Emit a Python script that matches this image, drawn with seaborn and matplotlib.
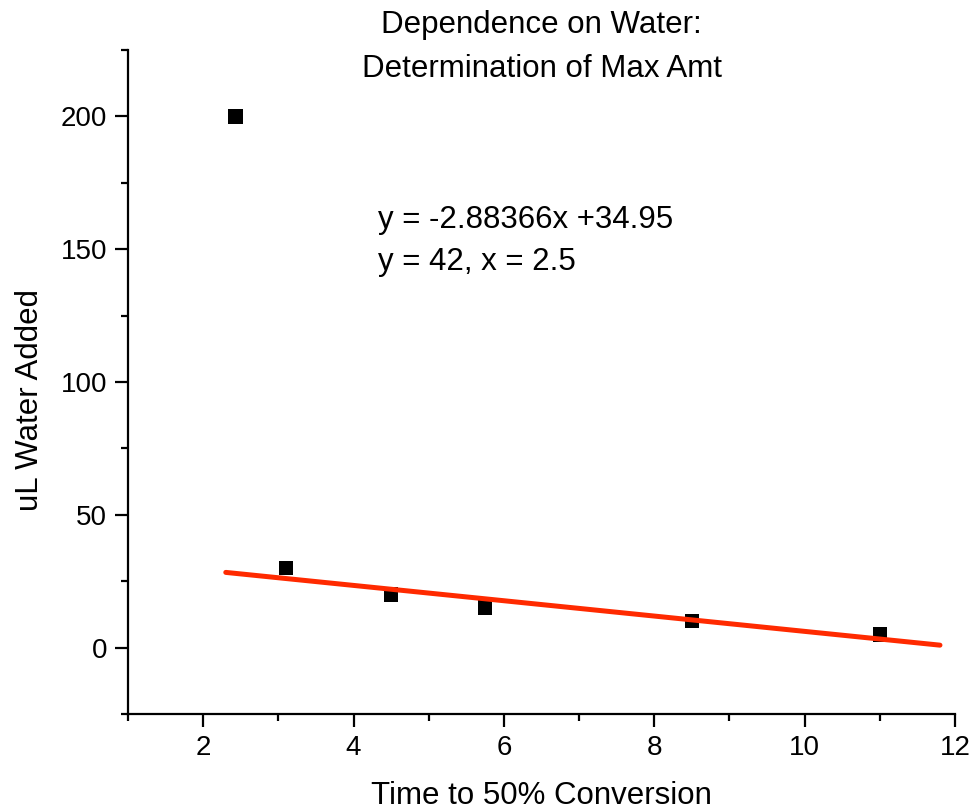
import numpy as np
import pandas as pd
import matplotlib
matplotlib.use("Agg")
import matplotlib.pyplot as plt
import seaborn as sns
from matplotlib.ticker import MultipleLocator

# Data
time_50 = [2.43, 3.1, 4.5, 5.75, 8.5, 11.0]
water_ul = [200, 30, 20, 15, 10, 5]
fit_slope = -2.88366
fit_intercept = 34.95
fit_range = [2.3, 11.8]
title_lines = ["Dependence on Water:", "Determination of Max Amt"]
eq_lines = ["y = -2.88366x +34.95", "y = 42, x = 2.5"]

sns.set_theme(style="white")
plt.rcParams['font.family'] = ['Liberation Sans', 'DejaVu Sans']
plt.rcParams['text.color'] = 'black'
plt.rcParams['axes.labelcolor'] = 'black'

fig = plt.figure(figsize=(9.73, 8.1), dpi=100)
ax = fig.add_axes([0.1316, 0.1185, 0.8499, 0.8198])

df = pd.DataFrame({"x": time_50, "y": water_ul})
fx = np.array(fit_range)
fit_df = pd.DataFrame({"x": fx, "y": fit_slope * fx + fit_intercept})

sns.scatterplot(data=df, x="x", y="y", ax=ax, marker="s", s=110,
                color="black", edgecolor="none", zorder=2)
sns.lineplot(data=fit_df, x="x", y="y", ax=ax, color="#ff2a00", lw=3.6,
             solid_capstyle="round", zorder=3)

ax.set_xlim(1, 12)
ax.set_ylim(-25, 225)
ax.xaxis.set_major_locator(MultipleLocator(2))
ax.xaxis.set_minor_locator(MultipleLocator(1))
ax.yaxis.set_major_locator(MultipleLocator(50))
ax.yaxis.set_minor_locator(MultipleLocator(25))
ax.set_yticks([0, 50, 100, 150, 200])

for s in ["top", "right"]:
    ax.spines[s].set_visible(False)
for s in ["left", "bottom"]:
    ax.spines[s].set_color("black")
    ax.spines[s].set_linewidth(1.6)

ax.tick_params(which="major", direction="out", length=9.4, width=1.6,
               colors="black", labelsize=20, left=True, bottom=True, pad=5.5)
ax.tick_params(which="minor", direction="out", length=5, width=1.6,
               colors="black", left=True, bottom=True)

ax.set_xlabel("Time to 50% Conversion", fontsize=22.5)
ax.set_ylabel("uL Water Added", fontsize=22.5)
ax.xaxis.set_label_coords(0.5, -0.1235)
ax.xaxis.label.set_va("center")
ax.yaxis.set_label_coords(-0.1185, 0.473)
ax.yaxis.label.set_va("center")

ax.text(0.5, 1.037, title_lines[0], transform=ax.transAxes, ha="center",
        va="center", fontsize=22.5)
ax.text(0.5, 0.971, title_lines[1], transform=ax.transAxes, ha="center",
        va="center", fontsize=22.5)

ax.text(4.32, 161, eq_lines[0], ha="left", va="center", fontsize=22.5)
ax.text(4.32, 145, eq_lines[1], ha="left", va="center", fontsize=22.5)

ax.grid(False)
fig.savefig("out.png", dpi=100)
